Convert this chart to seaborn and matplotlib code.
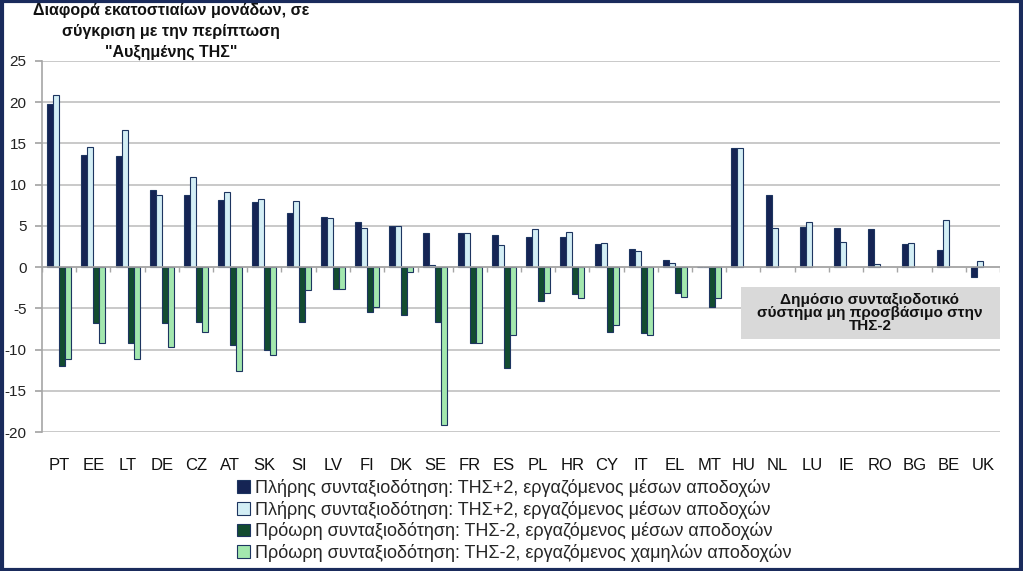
import matplotlib
matplotlib.use("Agg")
import matplotlib.pyplot as plt
import seaborn as sns
import numpy as np
import pandas as pd
from matplotlib.patches import Rectangle

categories = ["PT", "EE", "LT", "DE", "CZ", "AT", "SK", "SI", "LV", "FI", "DK", "SE", "FR", "ES",
              "PL", "HR", "CY", "IT", "EL", "MT", "HU", "NL", "LU", "IE", "RO", "BG", "BE", "UK"]
nan = np.nan
full_avg = [19.8, 13.6, 13.5, 9.4, 8.8, 8.1, 7.9, 6.6, 6.1, 5.5, 5.0, 4.1, 4.1, 3.9,
            3.7, 3.6, 2.8, 2.2, 0.85, 0.0, 14.4, 8.7, 4.9, 4.7, 4.6, 2.8, 2.1, -1.2]
full_avg2 = [20.9, 14.6, 16.6, 8.8, 10.9, 9.1, 8.3, 8.0, 5.9, 4.7, 5.0, 0.3, 4.1, 2.7,
             4.6, 4.3, 2.9, 1.9, 0.5, 0.0, 14.4, 4.7, 5.5, 3.1, 0.4, 2.95, 5.7, 0.8]
early_avg = [-12.0, -6.8, -9.2, -6.8, -6.6, -9.5, -10.1, -6.7, -2.7, -5.5, -5.8, -6.6, -9.2, -12.2,
             -4.1, -3.3, -7.9, -8.0, -3.2, -4.8, nan, nan, nan, nan, nan, nan, nan, nan]
early_low = [-11.1, -9.2, -11.1, -9.7, -7.9, -12.6, -10.7, -2.8, -2.7, -4.8, -0.6, -19.1, -9.2, -8.2,
             -3.2, -3.7, -7.0, -8.2, -3.6, -3.8, nan, nan, nan, nan, nan, nan, nan, nan]

legend_labels = [
    "Πλήρης συνταξιοδότηση: ΤΗΣ+2, εργαζόμενος μέσων αποδοχών",
    "Πλήρης συνταξιοδότηση: ΤΗΣ+2, εργαζόμενος μέσων αποδοχών",
    "Πρόωρη συνταξιοδότηση: ΤΗΣ-2, εργαζόμενος μέσων αποδοχών",
    "Πρόωρη συνταξιοδότηση: ΤΗΣ-2, εργαζόμενος χαμηλών αποδοχών",
]
series_keys = ["s1", "s2", "s3", "s4"]
colors = ["#0b1f5e", "#cdf1fb", "#0a5530", "#98f2a6"]

title_text = "Διαφορά εκατοστιαίων μονάδων, σε\nσύγκριση με την περίπτωση\n\"Αυξημένης ΤΗΣ\""
note_text = "Δημόσιο συνταξιοδοτικό\nσύστημα μη προσβάσιμο στην\nΤΗΣ-2"
yticks = [25, 20, 15, 10, 5, 0, -5, -10, -15, -20]

rows = []
for key, vals in zip(series_keys, [full_avg, full_avg2, early_avg, early_low]):
    for c, v in zip(categories, vals):
        rows.append({"country": c, "series": key, "value": v})
df = pd.DataFrame(rows)

sns.set_theme(style="white")
FONT = ["Liberation Sans", "DejaVu Sans"]
plt.rcParams["font.family"] = FONT

fig = plt.figure(figsize=(10.23, 5.71), dpi=100)
ax = fig.add_axes([42/1023, 1-432/571, (1000-42)/1023, (432-61)/571])

sns.barplot(data=df, x="country", y="value", hue="series", hue_order=series_keys,
            order=categories, palette=colors, width=0.7, edgecolor="#1d3560",
            linewidth=0.8, ax=ax, legend=True, errorbar=None)

ax.set_ylim(-20, 25)
ax.set_xlim(-0.5, len(categories) - 0.5)
ax.set_yticks(yticks)
ax.set_yticklabels([str(t) for t in yticks], fontsize=11, color="#222222")
ax.yaxis.grid(True, color="#c0c0c0", linewidth=1.2)
ax.set_axisbelow(True)
ax.set_xlabel("")
ax.set_ylabel("")
for s in ["top", "right", "bottom"]:
    ax.spines[s].set_visible(False)
ax.spines["left"].set_color("#a6a6a6")
ax.spines["left"].set_linewidth(1.2)
ax.tick_params(axis="y", left=True, length=5, color="#a6a6a6", pad=6)
ax.tick_params(axis="x", bottom=False, labelsize=12, pad=13, colors="#111111")

# zero axis with category separator ticks
ax.axhline(0, color="#a6a6a6", linewidth=1.2, zorder=1.5)
bounds = np.arange(len(categories) + 1) - 0.5
ax.vlines(bounds, -0.55, 0, color="#a6a6a6", linewidth=1.0, zorder=1.5)

# legend
handles, _ = ax.get_legend_handles_labels()
ax.legend_.remove()
fig.legend(handles, legend_labels, loc="upper left", bbox_to_anchor=(237/1023, 1-479/571),
           frameon=False, fontsize=13, handlelength=0.7, handleheight=0.7,
           handletextpad=0.3, labelspacing=0.2, borderaxespad=0, borderpad=0)

# title
fig.text(171/1023, 1-3/571, title_text, ha="center", va="top", fontsize=11.5,
         fontweight="bold", linespacing=1.5, color="#111111")

# note box
fig.patches.append(Rectangle((741/1023, 1-339/571), (1000-741)/1023, (339-287)/571,
                             transform=fig.transFigure, facecolor="#d9d9d9",
                             edgecolor="none", zorder=3))
fig.text(870/1023, 1-313/571, note_text, ha="center", va="center", fontsize=11,
         fontweight="bold", linespacing=0.95, color="#111111", zorder=4)

# figure border
fig.patches.append(Rectangle((0.0015, 0.0025), 0.997, 0.995, transform=fig.transFigure,
                             facecolor="none", edgecolor="#1a2b5c", linewidth=3, zorder=10))

fig.savefig("out.png", dpi=100)
